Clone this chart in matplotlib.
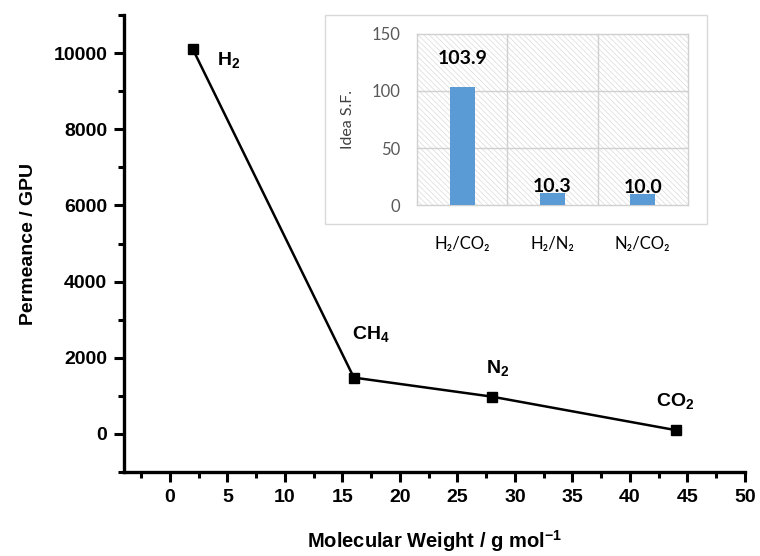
import matplotlib
matplotlib.use("Agg")
import matplotlib.pyplot as plt
from matplotlib.patches import Rectangle
from matplotlib.ticker import MultipleLocator

# Permeance of each gas against its molecular weight
gases = ["H$_2$", "CH$_4$", "N$_2$", "CO$_2$"]
mol_weight = [2, 16, 28, 44]
permeance = [10100, 1480, 980, 100]

# Ideal selectivity for the gas pairs (inset)
pairs = ["H\u2082/CO\u2082", "H\u2082/N\u2082", "N\u2082/CO\u2082"]
selectivity = [103.9, 10.3, 10.0]

plt.rcParams["font.family"] = "Liberation Sans"
plt.rcParams["font.weight"] = "bold"
plt.rcParams["mathtext.fontset"] = "custom"
plt.rcParams["mathtext.rm"] = "Liberation Sans:bold"
plt.rcParams["mathtext.it"] = "Liberation Sans:bold"
plt.rcParams["mathtext.bf"] = "Liberation Sans:bold"
plt.rcParams["hatch.linewidth"] = 0.5

fig = plt.figure(figsize=(7.6, 5.56), dpi=100)
ax = fig.add_axes([0.163, 0.151, 0.817, 0.822])

ax.plot(mol_weight, permeance, color="black", lw=1.8, marker="s", ms=7.5)
# label anchor (left, baseline) relative to each point
offsets = [(2.1, -420), (-0.2, 1020), (-0.5, 620), (-1.7, 640)]
for name, x, y, (dx, dy) in zip(gases, mol_weight, permeance, offsets):
    ax.text(x + dx, y + dy, name, fontsize=14, fontweight="bold", ha="left",
            va="baseline")

ax.set_xlim(-4, 50)
ax.set_ylim(-1000, 11000)
ax.xaxis.set_major_locator(MultipleLocator(5))
ax.xaxis.set_minor_locator(MultipleLocator(2.5))
ax.yaxis.set_major_locator(MultipleLocator(2000))
ax.yaxis.set_minor_locator(MultipleLocator(1000))
ax.set_xticks(range(0, 51, 5))
for side in ["top", "right"]:
    ax.spines[side].set_visible(False)
for side in ["left", "bottom"]:
    ax.spines[side].set_linewidth(2.4)
ax.tick_params(which="major", direction="out", length=7, width=2.2, labelsize=14, pad=5)
ax.tick_params(which="minor", direction="out", length=4, width=2.2)
for lab in ax.get_xticklabels() + ax.get_yticklabels():
    lab.set_fontweight("bold")
ax.set_xlabel("Molecular Weight / g mol$^{-1}$", fontsize=14.5, fontweight="bold", labelpad=16)
ax.set_ylabel("Permeance / GPU", fontsize=14, fontweight="bold", labelpad=12)

# inset: frame, hatched plot area and bars
frame = Rectangle((0.428, 0.597), 0.502, 0.376, transform=fig.transFigure,
                  facecolor="white", edgecolor="#d9d9d9", lw=1, zorder=2)
fig.patches.append(frame)

ins = fig.add_axes([0.549, 0.631, 0.356, 0.308], zorder=3)
ins.set_facecolor("white")
ins.add_patch(Rectangle((0, 0), 1, 1, transform=ins.transAxes, facecolor="white",
                        edgecolor="#dadada", lw=0, hatch="\\\\\\\\\\\\", zorder=0))
xpos = range(len(pairs))
ins.bar(xpos, selectivity, width=0.28, color="#5b9bd5", zorder=3)
label_y = [124, 11.5, 10.5]
for x, v, ly in zip(xpos, selectivity, label_y):
    ins.text(x, ly, f"{v:.1f}", ha="center", va="baseline", fontsize=14,
             fontweight="bold", family="Lato", zorder=4)
ins.set_xlim(-0.5, 2.5)
ins.set_ylim(0, 150)
ins.set_yticks([0, 50, 100, 150])
for y in [0, 50, 100, 150]:
    ins.axhline(y, color="#d0d0d0", lw=1, zorder=1, clip_on=False)
for x in [-0.5, 0.5, 1.5, 2.5]:
    ins.axvline(x, color="#d0d0d0", lw=1, zorder=1, clip_on=False)
for s in ins.spines.values():
    s.set_visible(False)
ins.set_xticks(list(xpos))
ins.set_xticklabels(pairs, family=["Lato", "DejaVu Sans"], fontweight="normal",
                    fontsize=12, color="black")
ins.tick_params(axis="x", length=0, pad=22)
ins.tick_params(axis="y", length=0, pad=12, labelsize=12, labelcolor="#595959")
for lab in ins.get_yticklabels():
    lab.set_family("Lato")
    lab.set_fontweight("normal")
ins.set_ylabel("Idea S.F.", family="Lato", fontweight="normal", fontsize=11.5,
               color="#404040", labelpad=12)

fig.savefig("out.png", dpi=100)
